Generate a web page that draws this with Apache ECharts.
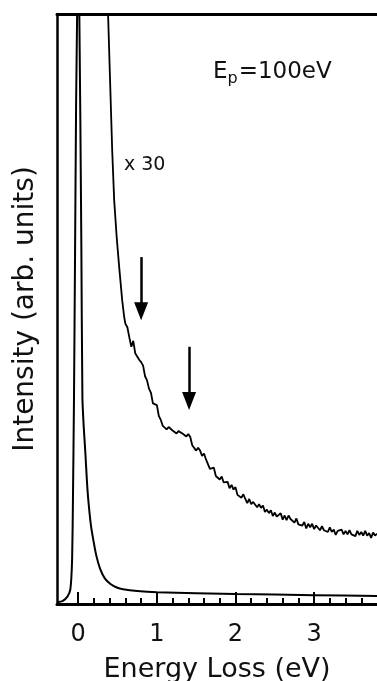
<!DOCTYPE html>
<html>
<head>
<meta charset="utf-8">
<script src="https://cdn.jsdelivr.net/npm/echarts@6/dist/echarts.min.js"></script>
<style>
  html, body { margin: 0; padding: 0; background: #fff; }
  #chart { width: 377px; height: 681px; }
</style>
</head>
<body>
<div id="chart"></div>
<script>
// energy loss (eV) vs intensity, y in arbitrary units (0 = baseline, 100 = top of frame)
const majorTicks = [0, 1, 2, 3]
const minorTicks = [0.2, 0.4, 0.6, 0.8, 1.2, 1.4, 1.6, 1.8, 2.2, 2.4, 2.6, 2.8, 3.2, 3.4, 3.6]

// elastic peak (x1)
const elastic = [
  [-0.27, 0.3], [-0.2, 0.5], [-0.14, 1.2], [-0.1, 2.5], [-0.078, 7.5], [-0.067, 17.8],
  [-0.054, 34.7], [-0.04, 60], [-0.027, 85], [-0.014, 100], [0, 130], [0.014, 100],
  [0.027, 82], [0.04, 60], [0.053, 35], [0.07, 30], [0.089, 26], [0.11, 21], [0.127, 17.8],
  [0.16, 13.5], [0.19, 11], [0.23, 8.2], [0.28, 5.9], [0.34, 4.3], [0.41, 3.4], [0.49, 2.8],
  [0.57, 2.5], [0.75, 2.2], [1.0, 2.0], [2.0, 1.7], [3.0, 1.5], [3.8, 1.35]
]

// loss spectrum magnified x30
const magnified = [
  [0.36, 105], [0.381, 99.3], [0.432, 76.9], [0.457, 68.5], [0.49, 62], [0.521, 57.1],
  [0.559, 51.5], [0.585, 48.6],
  [0.600, 47.5], [0.625, 46.9], [0.650, 45.2], [0.675, 43.6], [0.700, 44.6], [0.725, 42.5],
  [0.750, 42.3], [0.775, 41.4], [0.800, 41.0], [0.825, 40.4], [0.850, 38.6], [0.875, 37.9],
  [0.900, 36.5], [0.925, 35.8], [0.950, 34.0], [0.975, 34.2], [1.000, 33.7], [1.025, 31.9],
  [1.050, 31.2], [1.075, 30.2], [1.100, 30.4], [1.125, 29.6], [1.150, 30.0], [1.175, 30.2],
  [1.200, 29.4], [1.225, 29.7], [1.250, 28.9], [1.275, 29.3], [1.300, 29.6], [1.325, 28.9],
  [1.350, 29.2], [1.375, 28.4], [1.400, 28.8], [1.425, 28.3], [1.450, 26.9], [1.475, 27.2],
  [1.500, 26.0], [1.525, 26.5], [1.550, 26.0], [1.575, 25.1], [1.600, 25.5], [1.625, 24.5],
  [1.650, 24.6], [1.675, 22.9], [1.700, 23.1], [1.725, 23.1], [1.750, 21.7], [1.775, 21.8],
  [1.800, 21.1], [1.825, 21.6], [1.850, 20.6], [1.875, 20.7], [1.900, 20.7], [1.925, 19.6],
  [1.950, 20.2], [1.975, 19.4], [2.000, 19.8], [2.025, 18.5], [2.050, 18.8], [2.075, 18.0],
  [2.100, 18.6], [2.125, 17.8], [2.150, 17.1], [2.175, 17.8], [2.200, 16.9], [2.225, 17.3],
  [2.250, 17.4], [2.275, 16.4], [2.300, 16.9], [2.325, 16.3], [2.350, 16.7], [2.375, 15.6],
  [2.400, 16.0], [2.425, 15.4], [2.450, 15.9], [2.475, 14.9], [2.500, 15.5], [2.525, 14.8],
  [2.550, 15.1], [2.575, 15.4], [2.600, 14.3], [2.625, 15.0], [2.650, 14.2], [2.675, 15.0],
  [2.700, 14.4], [2.725, 14.6], [2.750, 13.8], [2.775, 14.5], [2.800, 13.5], [2.825, 13.8],
  [2.850, 13.3], [2.875, 13.9], [2.900, 12.8], [2.925, 13.6], [2.950, 13.0], [2.975, 13.6],
  [3.000, 12.7], [3.025, 13.3], [3.050, 13.6], [3.075, 12.5], [3.100, 13.2], [3.125, 12.5],
  [3.150, 12.8], [3.175, 12.2], [3.200, 13.0], [3.225, 12.2], [3.250, 12.6], [3.275, 11.7],
  [3.300, 12.4], [3.325, 12.1], [3.350, 12.6], [3.375, 11.8], [3.400, 12.4], [3.425, 11.8],
  [3.450, 12.5], [3.475, 11.8], [3.500, 12.1], [3.525, 11.5], [3.550, 12.4], [3.575, 11.7],
  [3.600, 12.2], [3.625, 11.6], [3.650, 12.4], [3.675, 11.6], [3.700, 12.0], [3.725, 11.2],
  [3.750, 12.1], [3.775, 11.6], [3.800, 11.9]
]

// arrows: [energy, start, tip]
const arrows = [[0.8, 58.8, 48.1], [1.41, 43.6, 32.9]]

const font = 'DejaVu Sans'
const xMin = -0.27
const xMax = 3.8
const chart = echarts.init(document.getElementById('chart'))

chart.setOption({
  animation: false,
  backgroundColor: '#fff',
  title: [{
    text: '{n|E}{s|p}{n|=100eV}',
    left: 208,
    top: 52,
    textStyle: {
      rich: {
        n: { fontSize: 23, fontFamily: font, color: '#111', fontWeight: 'normal' },
        s: { fontSize: 16, fontFamily: font, color: '#111', fontWeight: 'normal', padding: [14, 1, 0, 0] }
      }
    }
  }, {
    text: 'x 30',
    left: 119,
    top: 151,
    textStyle: { fontSize: 19, fontFamily: font, color: '#111', fontWeight: 'normal' }
  }],
  grid: {
    left: 57,
    right: 0,
    top: 14,
    bottom: 77,
    show: false,
    containLabel: false,
    outerBoundsMode: 'none'
  },
  xAxis: [{
    type: 'value',
    min: xMin,
    max: xMax,
    position: 'bottom',
    axisLine: { show: true, onZero: false, lineStyle: { color: '#000', width: 3 } },
    axisTick: { show: true, inside: true, length: 12, customValues: majorTicks, lineStyle: { color: '#000', width: 2 } },
    axisLabel: { customValues: majorTicks, fontSize: 24, fontFamily: font, color: '#111', margin: 19 },
    splitLine: { show: false },
    name: 'Energy Loss (eV)',
    nameLocation: 'middle',
    nameGap: 52,
    nameTextStyle: { fontSize: 27, fontFamily: font, color: '#111' }
  }, {
    type: 'value',
    min: xMin,
    max: xMax,
    position: 'bottom',
    axisLine: { show: false },
    axisTick: { show: true, inside: true, length: 6, customValues: minorTicks, lineStyle: { color: '#000', width: 2 } },
    axisLabel: { show: false },
    splitLine: { show: false }
  }, {
    // top frame line
    type: 'value',
    min: xMin,
    max: xMax,
    position: 'top',
    axisLine: { show: true, onZero: false, lineStyle: { color: '#000', width: 3 } },
    axisTick: { show: false },
    axisLabel: { show: false },
    splitLine: { show: false }
  }],
  yAxis: {
    type: 'value',
    min: 0,
    max: 100,
    axisLine: { show: true, onZero: false, lineStyle: { color: '#000', width: 2.5 } },
    axisTick: { show: false },
    axisLabel: { show: false },
    splitLine: { show: false },
    name: 'Intensity (arb. units)',
    nameLocation: 'middle',
    nameGap: 17,
    nameTextStyle: { fontSize: 28, fontFamily: font, color: '#111' }
  },
  series: [{
    name: 'elastic',
    type: 'line',
    data: elastic,
    showSymbol: false,
    smooth: 0.2,
    lineStyle: { color: '#000', width: 2 }
  }, {
    name: 'x30',
    type: 'line',
    data: magnified,
    showSymbol: false,
    lineStyle: { color: '#000', width: 1.8 },
    markLine: {
      silent: true,
      symbol: ['none', 'triangle'],
      symbolSize: [14, 18],
      label: { show: false },
      lineStyle: { color: '#000', width: 2.5, type: 'solid' },
      data: arrows.map(a => [{ coord: [a[0], a[1]] }, { coord: [a[0], a[2] + 1.5] }])
    }
  }]
})
</script>
</body>
</html>
